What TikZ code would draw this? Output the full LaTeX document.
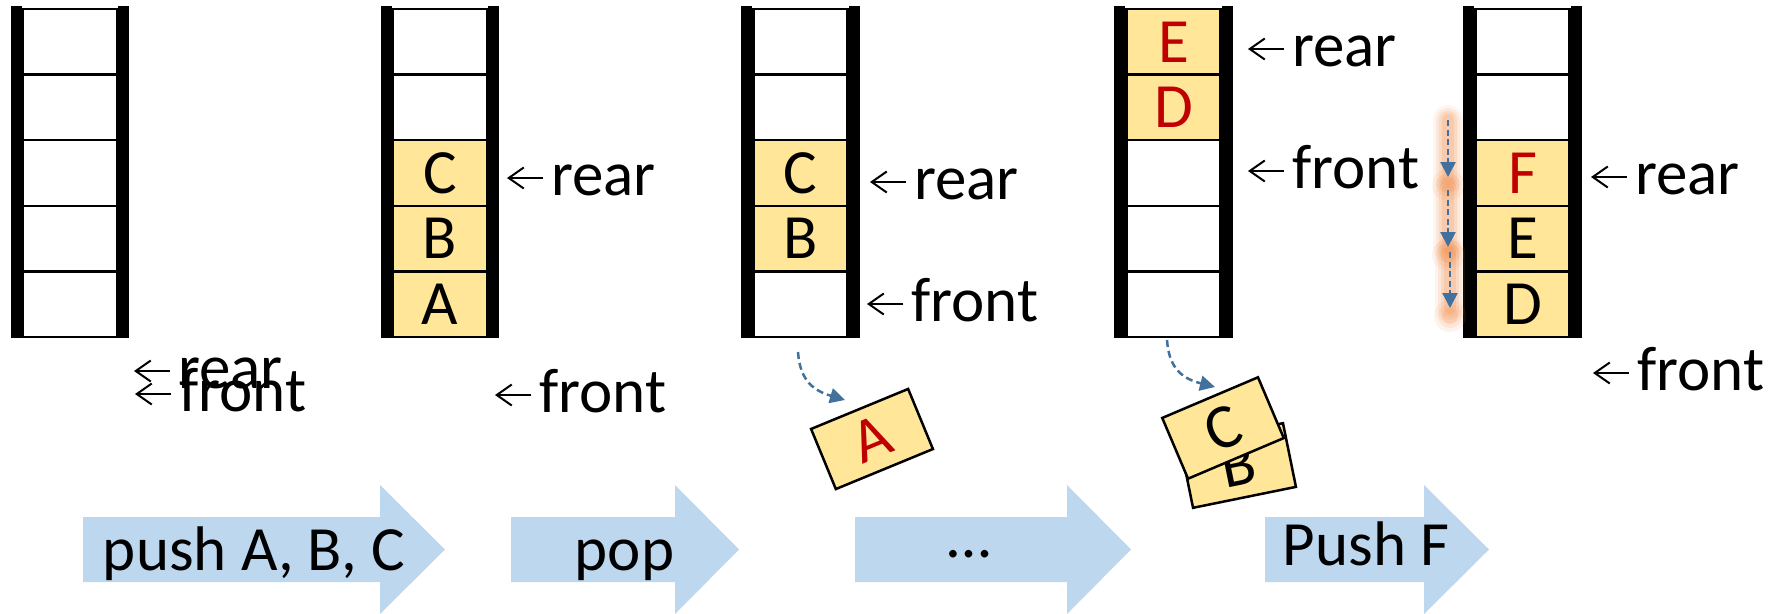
\documentclass[tikz,border=0pt]{standalone}
\usepackage{fontspec}
\setmainfont{Carlito}
\usetikzlibrary{arrows.meta}

\definecolor{slotfill}{HTML}{FFE699}
\definecolor{newred}{HTML}{C00000}
\definecolor{stepblue}{HTML}{BDD7EE}
\definecolor{flowblue}{HTML}{41719C}
\definecolor{glowcol}{HTML}{F08C4A}

\begin{document}
\begin{tikzpicture}[x=1pt,y=-1pt,
  font=\fontsize{63pt}{70pt}\selectfont,
  emptycell/.style={draw, line width=2.5pt, fill=white, minimum width=94pt,
    minimum height=65.6pt, inner sep=0pt},
  full/.style={emptycell, fill=slotfill},
  fullnew/.style={full, text=newred},
  rail/.style={line width=11pt},
  lbl/.style={inner sep=0pt, anchor=base west},
  ptr/.style={line width=2pt, -{Straight Barb[length=15pt,width=21pt,line width=2pt]}},
  tile/.style={draw, line width=2.5pt, fill=slotfill, minimum width=105pt,
    minimum height=65pt, inner sep=0pt},
  popflow/.style={draw=flowblue, line width=2.5pt, dash pattern=on 7pt off 4pt,
    -{Triangle[length=15pt,width=15pt]}},
  steptext/.style={inner sep=0pt, anchor=base},
]
\useasboundingbox (0,0) rectangle (1768,613);

% ---------- queue columns ----------
\foreach \st/\tx [count=\i] in {emptycell/{}, emptycell/{}, emptycell/{}, emptycell/{}, emptycell/{}}
  \node[\st] (q1-\i) at (70, 65.6*\i-23.8) {\tx};
\foreach \st/\tx [count=\i] in {emptycell/{}, emptycell/{}, full/C, full/B, full/A}
  \node[\st] (q2-\i) at (440, 65.6*\i-23.8) {\tx};
\foreach \st/\tx [count=\i] in {emptycell/{}, emptycell/{}, full/C, full/B, emptycell/{}}
  \node[\st] (q3-\i) at (800.5, 65.6*\i-23.8) {\tx};
\foreach \st/\tx [count=\i] in {fullnew/E, fullnew/D, emptycell/{}, emptycell/{}, emptycell/{}}
  \node[\st] (q4-\i) at (1173.5, 65.6*\i-23.8) {\tx};
\foreach \st/\tx [count=\i] in {emptycell/{}, emptycell/{}, fullnew/F, full/E, full/D}
  \node[\st] (q5-\i) at (1522.5, 65.6*\i-23.8) {\tx};

% thick side rails of each column
\foreach \c in {1,...,5} {
  \draw[rail] ([shift={(-5.5,-1.5)}]q\c-1.north west) -- ([shift={(-5.5,0)}]q\c-5.south west);
  \draw[rail] ([shift={(5.5,-1.5)}]q\c-1.north east) -- ([shift={(5.5,0)}]q\c-5.south east);
}

% ---------- rear / front pointers ----------
\node[lbl] (r1) at (178,388) {rear};
\node[lbl] (f1) at (179,411) {front};
\node[lbl] (r2) at (551,195) {rear};
\node[lbl] (f2) at (539,412) {front};
\node[lbl] (r3) at (914,199) {rear};
\node[lbl] (f3) at (911,321) {front};
\node[lbl] (r4) at (1292,66) {rear};
\node[lbl] (f4) at (1292,188) {front};
\node[lbl] (r5) at (1635,194) {rear};
\node[lbl] (f5) at (1637,390) {front};
\foreach \n in {r1,f1,r2,f2,r3,f3,r4,f4,r5,f5}
  \draw[ptr] ([shift={(-8,-17)}]\n.base west) -- ++(-36,0);

% ---------- dequeued items ----------
\node[tile, rotate=22.4, text=newred] (tileA) at (872,439) {A};
\node[tile, rotate=11.5] (tileB) at (1238,465.5) {B};
\node[tile, rotate=23, minimum width=104pt, minimum height=66pt] (tileC) at (1223,428) {C};

\coordinate (out3) at (798,352);
\coordinate (drop3) at (845,400);
\draw[popflow] (out3) .. controls (800,382) and (815,391) .. (drop3);
\coordinate (out4) at (1167,340);
\coordinate (drop4) at (1215,387);
\draw[popflow] (out4) .. controls (1169,370) and (1184,379) .. (drop4);

% ---------- shifting arrows with glow ----------
\coordinate (g1s) at (1448,120); \coordinate (g1e) at (1448,177);
\coordinate (g2s) at (1448,190); \coordinate (g2e) at (1448,247);
\coordinate (g3s) at (1450,252); \coordinate (g3e) at (1450,308);
\foreach \a/\b in {g1s/g1e, g2s/g2e, g3s/g3e} {
  \foreach \w/\o in {30/0.09, 24/0.12, 18/0.16, 12/0.2}
    \draw[line width=\w pt, draw=glowcol, opacity=\o, line cap=round] (\a) -- (\b);
  \foreach \r/\o in {16/0.1, 12/0.14, 8/0.18}
    \fill[glowcol, opacity=\o] ([yshift=-8]\b) circle (\r);
}
\foreach \a/\b in {g1s/g1e, g2s/g2e, g3s/g3e}
  \draw[popflow, line width=2.4pt, dash pattern=on 6pt off 3.5pt,
        -{Triangle[length=15pt,width=15pt]}] (\a) -- (\b);

% ---------- operation arrows ----------
\newcommand\steparrow[3]{%
  \fill[stepblue] (#1,517) -- (#2,517) -- (#2,485) -- (#3,549.5) -- (#2,614)
    -- (#2,582) -- (#1,582) -- cycle;}
\steparrow{83}{380}{445}
\steparrow{511}{675}{739}
\steparrow{855}{1067}{1131}
\steparrow{1265}{1424}{1489}
\node[steptext] (op1) at (254,570) {push A, B, C};
\node[steptext] (op2) at (624.5,570) {pop};
\node[steptext] (op3) at (969.5,557) {…};
\node[steptext] (op4) at (1366,565) {Push F};
\end{tikzpicture}
\end{document}
